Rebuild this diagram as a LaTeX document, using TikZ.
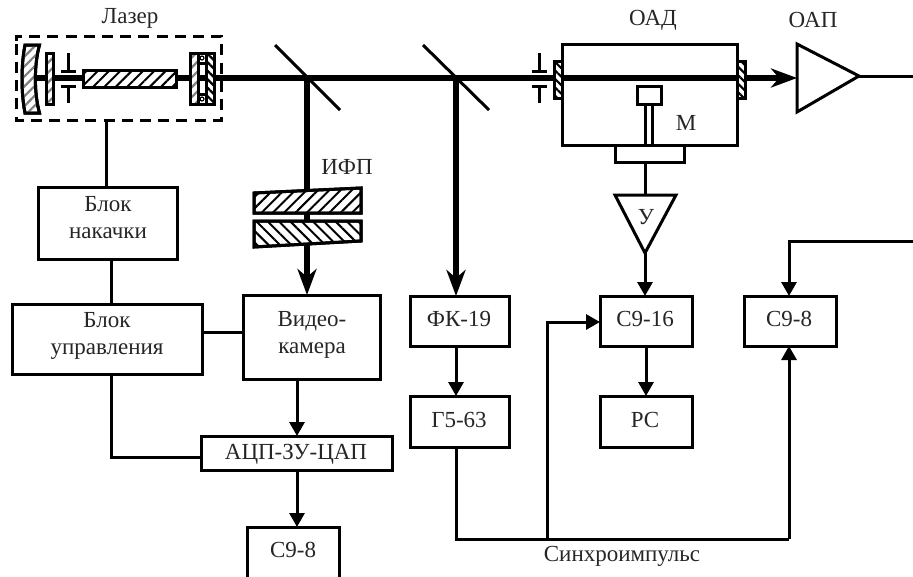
\documentclass[tikz,border=0pt]{standalone}
\usepackage{fontspec}
\setmainfont{Liberation Serif}
\usetikzlibrary{arrows.meta,patterns.meta,calc}
\tikzset{
  box/.style={draw=black,line width=3pt,fill=white,outer sep=0pt,inner sep=0pt},
  txt/.style={anchor=base,inner sep=0pt,font=\fontsize{23pt}{25pt}\selectfont,text=black!85},
  wire/.style={line width=3pt,draw=black},
  warrow/.style={wire,-{Triangle[length=14pt,width=15pt]}},
  beam/.style={line width=5.6pt,draw=black},
  barrow/.style={beam,-{Stealth[length=26pt,width=19pt,inset=8pt]}},
  thin part/.style={line width=3pt,draw=black},
  part/.style={line width=3pt,draw=black,fill=white},
  hblack/.style={pattern={Lines[angle=45,distance=8pt,line width=2pt]},pattern color=black},
  hback/.style={pattern={Lines[angle=-45,distance=8pt,line width=2pt]},pattern color=black},
  hgray/.style={pattern={Lines[angle=45,distance=7pt,line width=2.2pt]},pattern color=black!50},
  hwin/.style={pattern={Lines[angle=-45,distance=6pt,line width=2.2pt]},pattern color=black},
}
% name, left, top, right, bottom
\newcommand{\bx}[5]{\node[box,minimum width=#4pt-#2pt,minimum height=#5pt-#3pt] (#1) at ({(#2+#4)/2},{(#3+#5)/2}) {};}
\newcommand{\ap}[1]{% aperture at x
  \draw[thin part] (#1,53) -- (#1,71) (#1-7.5,71) -- (#1+7.5,71)
     (#1-7.5,86) -- (#1+7.5,86) (#1,86) -- (#1,103);}
\begin{document}
\begin{tikzpicture}[x=1pt,y=-1pt]
\useasboundingbox (0,0) rectangle (913,576);
\clip (0,0) rectangle (913,576);

% free points on the beams
\coordinate (b0) at (36,78);
\coordinate (m1) at (307,78);
\coordinate (m2) at (456,78);
\coordinate (bus) at (456,539);
\coordinate (sync) at (547,539);
\coordinate (busr) at (789,539);
\coordinate (sigr) at (913,241);
\coordinate (sigc) at (789,241);
\coordinate (oapout) at (913,76);
\coordinate (oapin) at (797,78);
\coordinate (oaptip) at (859,76);

% blocks
\bx{pump}{38}{187}{177}{259}
\bx{ctrl}{12}{304}{202}{374}
\bx{cam}{243}{295}{380}{379}
\bx{adc}{201}{436}{392}{470}
\bx{osca}{247}{527}{339}{600}
\bx{fk}{410}{296}{509}{346}
\bx{gen}{410}{396}{509}{447}
\bx{oscb}{600}{296}{692}{346}
\bx{rs}{600}{396}{692}{447}
\bx{oscc}{744}{296}{836}{346}
\bx{cell}{562}{44}{737}{145}
\bx{base}{615}{145}{684}{162}
\draw[line width=3pt,dash pattern=on 11pt off 7.2pt] (16,41) -- (16,36) -- (221,36) -- (221,120) -- (16,120) -- (16,41);

% beams
\draw[beam] (b0) -- (554,78);
\draw[beam] (554,78) -- (760,78);
\draw[barrow] (760,78) -- (oapin);
\draw[barrow] (m1) -- (m1 |- cam.north);
\draw[barrow] (m2) -- (m2 |- fk.north);

% laser interior
\path[part] (25,45) .. controls (21,65) and (21,93) .. (25,113) -- (39.5,113) .. controls (34,93) and (34,65) .. (39.5,45) -- cycle;
\path[draw=black,line width=3pt,hgray] (25,45) .. controls (21,65) and (21,93) .. (25,113) -- (39.5,113) .. controls (34,93) and (34,65) .. (39.5,45) -- cycle;
\draw[part] (46.5,53) rectangle (53.5,104);
\path[draw=black,line width=3pt,hgray] (46.5,53) rectangle (53.5,104);
\ap{68.5}
\draw[part] (83,70) rectangle (176,87);
\path[draw=black,line width=3pt,hblack] (83,70) rectangle (176,87);
\draw[part] (190,53) rectangle (198,104);
\path[hgray] (190,53) rectangle (198,104);
\draw[part] (206,53) rectangle (214,104);
\path[hwin] (206,53) rectangle (214,104);
\draw[thin part] (190,53) rectangle (214,104) (198,53) -- (198,104) (206,53) -- (206,104) (198,63) -- (206,63) (198,94) -- (206,94);
\draw[line width=1.2pt,fill=white] (202,58) circle (2pt) (202,99) circle (2pt);

% beam splitters
\draw[thin part] (275,45) -- (340,110);
\draw[thin part] (423,45) -- (489,110);

% Fabry-Perot plates
\path[part] (254,193) -- (361,188) -- (361,213) -- (254,213) -- cycle;
\path[draw=black,line width=3pt,hblack] (254,193) -- (361,188) -- (361,213) -- (254,213) -- cycle;
\path[part] (254,221) -- (361,221) -- (361,241) -- (254,247) -- cycle;
\path[draw=black,line width=3pt,hback] (254,221) -- (361,221) -- (361,241) -- (254,247) -- cycle;

% cell details
\ap{539}
\draw[part] (554,61) rectangle (562,98);
\path[draw=black,line width=3pt,hwin] (554,61) rectangle (562,98);
\draw[part] (737,61) rectangle (745,98);
\path[draw=black,line width=3pt,hwin] (737,61) rectangle (745,98);
\node[box,minimum width=24pt,minimum height=18pt] (mic) at (649,95) {};
\draw[wire] ([xshift=-3.5pt]mic.south) -- ([xshift=-3.5pt]mic.south |- cell.south);
\draw[wire] ([xshift=3.5pt]mic.south) -- ([xshift=3.5pt]mic.south |- cell.south);

% triangles
\coordinate (ampl) at (615,195);
\coordinate (ampr) at (676,195);
\coordinate (amptip) at (645,253);
\coordinate (ampin) at (645,195);
\draw[part,line join=miter] (ampl) -- (ampr) -- (amptip) -- cycle;
\draw[part,line join=miter] (797,44) -- (oaptip) -- (797,112) -- cycle;

% connectors
\draw[wire] (106,120) -- (106,187);
\draw[wire] (111,259) -- (111,304);
\draw[wire] (ctrl.east |- 0,332) -- (cam.west |- 0,332);
\draw[wire] (111,374) |- (adc.west |- 0,457);
\draw[warrow] (297,379) -- (297,436);
\draw[warrow] (297,470) -- (297,527);
\draw[wire] (645,162) -- (ampin);
\draw[warrow] (amptip) -- (oscb.north -| amptip);
\draw[warrow] (oscb.south) -- (rs.north);
\draw[warrow] ([xshift=-3.5pt]fk.south) -- ([xshift=-3.5pt]gen.north);
\draw[wire] ([xshift=-3.5pt]gen.south) -- (bus) -- (busr);
\draw[warrow] (busr) -- (oscc.south -| busr);
\draw[warrow] (sync) |- (oscb.west |- 0,322);
\draw[warrow] (sigr) -- (sigc) -- (oscc.north -| sigc);
\draw[wire] (oaptip) -- (oapout);

% labels
\node[txt] (t1) at (130,23) {Лазер};
\node[txt] (t2) at (653,25) {ОАД};
\node[txt] (t3) at (813,27) {ОАП};
\node[txt] (t4) at (347,174) {ИФП};
\node[txt] (t5) at (686,130) {М};
\node[txt] (t6) at (108,211) {Блок};
\node[txt] (t7) at (108,238) {накачки};
\node[txt] (t8) at (107,327) {Блок};
\node[txt] (t9) at (107,354) {управления};
\node[txt] (t10) at (312,326) {Видео-};
\node[txt] (t11) at (312,353) {камера};
\node[txt] (t12) at (296,459) {АЦП-ЗУ-ЦАП};
\node[txt] (t13) at (293,557) {С9-8};
\node[txt] (t14) at (459,326) {ФК-19};
\node[txt] (t15) at (459,427) {Г5-63};
\node[txt] (t16) at (645,326) {С9-16};
\node[txt] (t17) at (789,326) {С9-8};
\node[txt] (t18) at (645,427) {РС};
\node[txt] (t19) at (646,224) {У};
\node[txt] (t20) at (622,561) {Синхроимпульс};
\end{tikzpicture}
\end{document}
